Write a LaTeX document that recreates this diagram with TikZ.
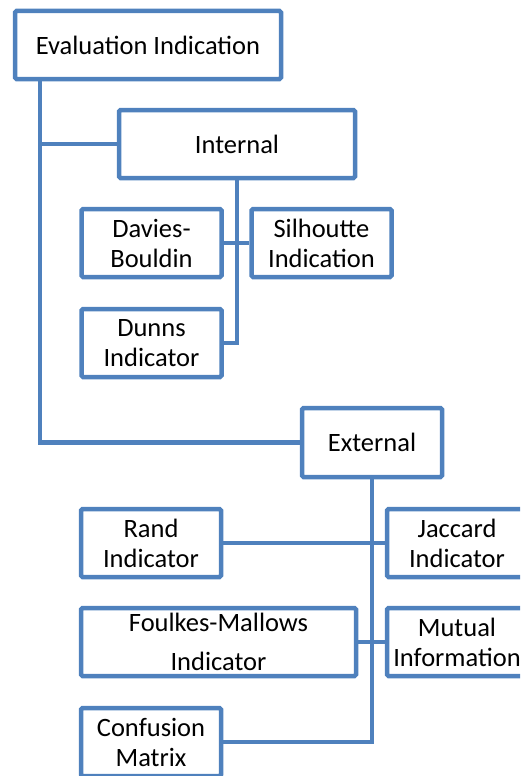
\documentclass[tikz,border=0pt]{standalone}
\usepackage{fontspec}
\setmainfont{Carlito}
\definecolor{boxblue}{HTML}{4F81BD}

\begin{document}
\begin{tikzpicture}[x=1pt, y=-1pt,
  box/.style={draw=boxblue, line width=4.5pt, rounded corners=1.5pt, align=center,
    inner sep=0pt, minimum width=140pt, minimum height=68pt,
    font=\fontsize{26.5}{30}\selectfont},
  link/.style={draw=boxblue, line width=4.5pt}]
  \useasboundingbox (0,0) rectangle (520,776);
  \clip (0,0) rectangle (520,776);

  \node[box, minimum width=266pt] (eval) at (148,45) {Evaluation Indication};
  \node[box, minimum width=236pt] (internal) at (237,144) {Internal};
  \node[box] (davies) at (151.5,243) {Davies-\\Bouldin};
  \node[box] (silhoutte) at (321.5,243) {Silhoutte\\Indication};
  \node[box] (dunns) at (151.5,343) {Dunns\\Indicator};
  \node[box, minimum height=69pt] (external) at (372,442.5) {External};
  \node[box] (rand) at (151,543) {Rand\\Indicator};
  \node[box] (jaccard) at (457,543) {Jaccard\\Indicator};
  \node[box, minimum width=275pt] (foulkes) at (218.5,642) {Foulkes-Mallows\\[9pt]Indicator};
  \node[box] (mutual) at (457,642) {Mutual\\Information};
  \node[box] (confusion) at (151,742) {Confusion\\Matrix};

  \coordinate (trunk) at ([xshift=27pt]eval.south west);

  \path[link]
  (trunk) |- (external.west)
  (trunk |- internal.west) -- (internal.west)
  (internal.south) |- (dunns.east)
  (davies.east) -- (silhoutte.west)
  (external.south) |- (confusion.east)
  (rand.east) -- (jaccard.west)
  (foulkes.east) -- (mutual.west);
\end{tikzpicture}
\end{document}
